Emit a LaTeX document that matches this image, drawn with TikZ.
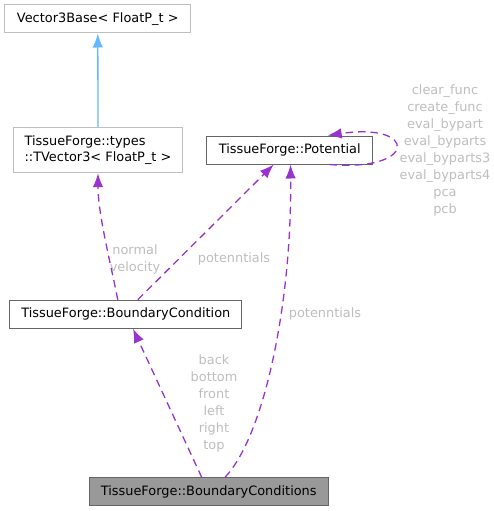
\documentclass[tikz,border=0pt]{standalone}
\usepackage{fontspec}
\setmainfont{DejaVu Sans}
\usetikzlibrary{positioning,arrows.meta,calc}
\definecolor{edgepurple}{HTML}{9A32CD}
\definecolor{edgeblue}{HTML}{63B8FF}
\definecolor{lblgray}{HTML}{BEBEBE}
\definecolor{boxlight}{HTML}{BFBFBF}
\definecolor{boxdark}{HTML}{666666}
\definecolor{boxfill}{HTML}{999999}
\tikzset{>={Latex[length=14pt,width=10.5pt]}}

\begin{document}
\begin{tikzpicture}[x=1pt, y=-1pt,
    font=\fontsize{12.9}{16.7}\selectfont,
    cls/.style={draw=boxdark, line width=1pt, inner sep=0pt, minimum height=28pt},
    extcls/.style={cls, draw=boxlight},
    lbl/.style={text=lblgray, align=center, inner sep=0pt, font=\fontsize{12.9}{17}\selectfont},
    usage/.style={->, draw=edgepurple, line width=1.3pt, dash pattern=on 7.5pt off 5pt},
    inherit/.style={<-, draw=edgeblue, line width=1.3pt}]
      \useasboundingbox (0,0) rectangle (494,511);
      \node[extcls, minimum width=185.7pt] (v3base) at (97.8,19) {Vector3Base< FloatP\_t >};
      \node[extcls, minimum width=169.4pt, minimum height=45pt, align=left] (tvec) at (98,150.2) {TissueForge::types\\::TVector3< FloatP\_t >};
      \node[cls, minimum width=166pt] (pot) at (289.7,150) {TissueForge::Potential};
      \node[cls, minimum width=231.7pt] (bc) at (125.8,314.2) {TissueForge::BoundaryCondition};
      \node[cls, minimum width=239.3pt, fill=boxfill] (bcs) at (208.7,491.8) {TissueForge::BoundaryConditions};  %this class

      \node[lbl] (lnv) at (135,259) {normal\\velocity};
      \node[lbl] (lpot1) at (234,259) {potenntials};
      \node[lbl] (lpot2) at (325,314) {potenntials};
      \node[lbl] (lsides) at (214,403.5) {back\\bottom\\front\\left\\right\\top};
      \node[lbl] (lself) at (445,150.5) {clear\_func\\create\_func\\eval\_bypart\\eval\_byparts\\eval\_byparts3\\eval\_byparts4\\pca\\pcb};

      \draw[inherit] (v3base.south) -- (tvec.north);
      \draw[usage] ([xshift=-8pt]bc.north) .. controls +(-8,-40) and +(0,40) .. (tvec.south);
      \draw[usage] ([xshift=12pt]bc.north) -- ([xshift=-16pt]pot.south);
      \draw[usage] ([xshift=40pt]pot.south) .. controls (418,172) and (418,122) .. ([xshift=38pt]pot.north);
      \draw[usage] ([xshift=-7pt]bcs.north) -- ([xshift=7.2pt]bc.south);
      \draw[usage] ([xshift=16.3pt]bcs.north) .. controls (265,435) and (292,300) .. ([xshift=0.8pt]pot.south);
\end{tikzpicture}
\end{document}
